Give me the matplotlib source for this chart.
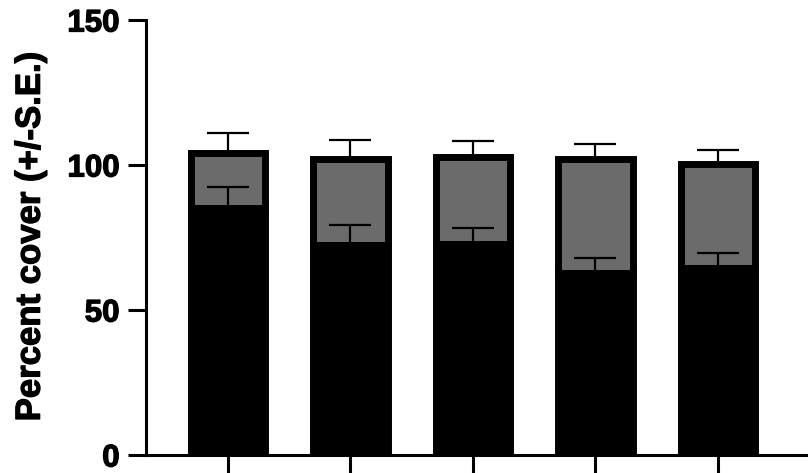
import numpy as np
from matplotlib import pyplot as plt
import matplotlib.patheffects as pe

plt.rcParams['font.family'] = ['Liberation Sans', 'DejaVu Sans']
plt.rcParams['font.weight'] = 'bold'

groups = ["1", "2", "3", "4", "5"]
# lower (black) segment and its standard error
lower_mean = [85.2, 72.4, 72.8, 62.6, 64.4]
lower_se = [7.3, 7.0, 5.4, 5.3, 5.2]
# upper (grey) segment stacked on top, and its standard error
upper_mean = [19.0, 29.7, 29.9, 39.6, 35.9]
upper_se = [7.0, 6.4, 5.6, 5.2, 5.0]

x = np.arange(len(groups))
lower = np.array(lower_mean)
total = lower + np.array(upper_mean)

fig = plt.figure(figsize=(8.08, 4.73), dpi=100)
ax = fig.add_axes([146 / 808, 18 / 473, 662 / 808, 435 / 473])

width = 0.61
ax.bar(x, lower, width, color='black', edgecolor='black', linewidth=5, zorder=2)
ax.bar(x, upper_mean, width, bottom=lower, color='#6b6b6b', edgecolor='black',
       linewidth=5, zorder=2)

# error bars only point upwards
ax.errorbar(x, lower, yerr=[np.zeros(len(x)), lower_se], fmt='none', ecolor='black',
            elinewidth=1.6, capsize=15.4, capthick=1.6, zorder=3)
ax.errorbar(x, total, yerr=[np.zeros(len(x)), upper_se], fmt='none', ecolor='black',
            elinewidth=1.6, capsize=15.4, capthick=1.6, zorder=1)

ax.set_xlim(-0.669, 4.735)
ax.set_ylim(0, 150)
ax.set_yticks([0, 50, 100, 150])
ax.set_xticks(x)
ax.set_xticklabels([])

for side in ['top', 'right']:
    ax.spines[side].set_visible(False)
for side in ['left', 'bottom']:
    ax.spines[side].set_linewidth(2.2)
ax.spines['left'].set_bounds(0, 150)

# heavier text
heavy = [pe.withStroke(linewidth=0.9, foreground='black')]
ax.tick_params(axis='both', length=13, width=2.2, labelsize=22.5, pad=6)
for lab in ax.get_yticklabels():
    lab.set_path_effects(heavy)
ylab = ax.set_ylabel("Percent cover (+/-S.E.)", fontsize=25, fontweight='bold')
ylab.set_path_effects(heavy)
ax.yaxis.set_label_coords(-0.150, 0.503)

fig.savefig("out.png", dpi=100)
